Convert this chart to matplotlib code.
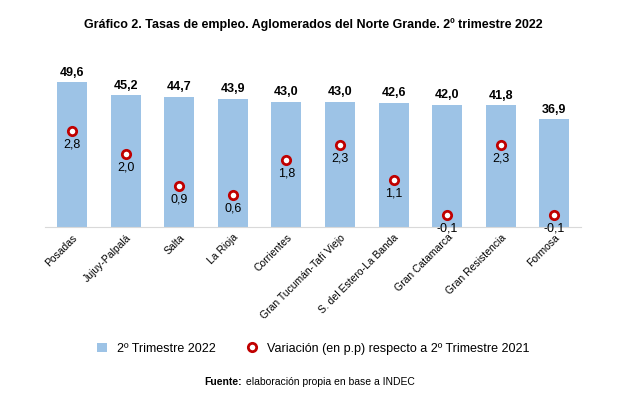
import matplotlib.pyplot as plt
import numpy as np

plt.rcParams['font.family'] = ['Liberation Sans', 'DejaVu Sans']

aglomerados = ['Posadas', 'Jujuy-Palpalá', 'Salta', 'La Rioja', 'Corrientes',
               'Gran Tucumán-Tafí Viejo', 'S. del Estero-La Banda', 'Gran Catamarca',
               'Gran Resistencia', 'Formosa']
tasa_2022 = [49.6, 45.2, 44.7, 43.9, 43.0, 43.0, 42.6, 42.0, 41.8, 36.9]
variacion = [2.8, 2.0, 0.9, 0.6, 1.8, 2.3, 1.1, -0.1, 2.3, -0.1]

fig = plt.figure(figsize=(6.27, 4.0), dpi=100)
ax = fig.add_axes([0.072, 0.4325, 0.855, 0.4375])
x = np.arange(len(aglomerados))
ax.bar(x, tasa_2022, width=0.56, color='#9dc3e6', label='2º Trimestre 2022')
ax.set_ylim(0, 60)
ax.set_xlim(-0.5, len(aglomerados) - 0.5)
for xi, v in zip(x, tasa_2022):
    ax.text(xi, v + 1.2, f'{v:.1f}'.replace('.', ','), ha='center', va='bottom',
            fontsize=9, fontweight='bold')
ax.set_yticks([])
ax.set_xticks(x)
ax.set_xticklabels(aglomerados, rotation=45, ha='right', rotation_mode='anchor', fontsize=7.5)
ax.tick_params(axis='x', length=0, pad=4)
for s in ['top', 'right', 'left']:
    ax.spines[s].set_visible(False)
ax.spines['bottom'].set_color('#d9d9d9')

ax2 = ax.twinx()
ax2.plot(x, variacion, 'o', markersize=6, markerfacecolor='white',
         markeredgecolor='#c00000', markeredgewidth=2,
         label='Variación (en p.p) respecto a 2º Trimestre 2021')
ax2.set_ylim(-0.5, 5.5)
ax2.set_yticks([])
for s in ax2.spines.values():
    s.set_visible(False)
for xi, v in zip(x, variacion):
    ax2.text(xi, v - 0.25, f'{v:.1f}'.replace('.', ','), ha='center', va='top', fontsize=9)

fig.suptitle('Gráfico 2. Tasas de empleo. Aglomerados del Norte Grande. 2º trimestre 2022',
             y=0.955, fontsize=9, fontweight='bold')
h1, l1 = ax.get_legend_handles_labels()
h2, l2 = ax2.get_legend_handles_labels()
fig.legend(h1 + h2, l1 + l2, loc='center', bbox_to_anchor=(0.5, 0.128), ncol=2,
           frameon=False, fontsize=9, handlelength=0.8, columnspacing=2.5)
fig.text(0.5, 0.038, 'Fuente:', ha='right', fontsize=7.5, fontweight='bold',
         transform=fig.transFigure).set_x(0.385)
fig.text(0.387, 0.038, ' elaboración propia en base a INDEC', ha='left', fontsize=7.5)
fig.savefig('out.png', dpi=100)
